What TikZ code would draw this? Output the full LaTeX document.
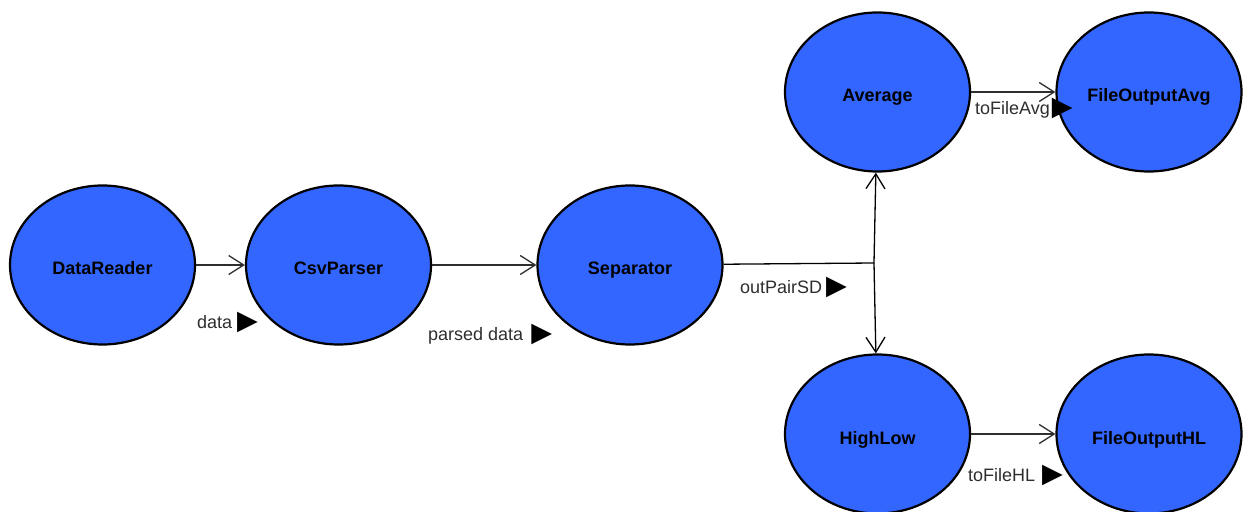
\documentclass[tikz,border=0pt]{standalone}
\usepackage{fontspec}
\setmainfont{Liberation Sans}
\newfontfamily\symfont{DejaVu Sans}
\usetikzlibrary{shapes.geometric,arrows.meta}
\definecolor{procblue}{HTML}{3366FF}
\definecolor{wire}{HTML}{2E2E2E}
% black pointer that follows each flow label
\newcommand\flowmark{{\color{black}\symfont\fontsize{27bp}{27bp}\selectfont\raisebox{-1bp}{▶}}}
\begin{document}
\begin{tikzpicture}[x=1bp,y=-1bp,
  proc/.style={ellipse,draw=black,line width=2.2bp,fill=procblue,
    minimum width=185bp,minimum height=159bp,inner sep=0pt,
    text height=20bp,text depth=0pt,
    font=\fontsize{18bp}{20bp}\selectfont\bfseries},
  flow/.style={draw=wire,line width=1.3bp,
    -{Straight Barb[length=15bp,width=19bp,line width=1.3bp]}},
  tag/.style={anchor=mid west,inner sep=0pt,text=wire,
    font=\fontsize{18bp}{20bp}\selectfont}]
\useasboundingbox (0,0) rectangle (1249,512);

% processing stages
\node[proc] (reader) at (102.5,265) {DataReader};
\node[proc] (parser) at (338.5,265) {CsvParser};
\node[proc] (sep)    at (630,265)   {Separator};
\node[proc] (avg)    at (877.5,92)  {Average};
\node[proc] (favg)   at (1149,92)   {FileOutputAvg};
\node[proc] (hl)     at (877.5,434) {HighLow};
\node[proc] (fhl)    at (1149,434)  {FileOutputHL};

% split point of the separator output
\coordinate (split) at (874,263);

% data flow
\draw[flow] (reader) -- (parser);
\draw[flow] (parser) -- (sep);
\draw[draw=black,line width=1.3bp] (sep) -- (split);
\draw[flow,draw=black] (split) -- (avg);
\draw[flow,draw=black] (split) -- (hl);
\draw[flow] (avg) -- (favg);
\draw[flow] (hl) -- (fhl);

% flow labels
\node[tag] (ldata)   at (197,326)  {data\hspace{5bp}\flowmark};
\node[tag] (lparsed) at (428,338)  {parsed data\hspace{8bp}\flowmark};
\node[tag] (lpair)   at (740,291)  {outPairSD\hspace{4bp}\flowmark};
\node[tag] (lfavg)   at (975,112)  {toFileAvg\hspace{2bp}\flowmark};
\node[tag] (lfhl)    at (968,479)  {toFileHL\hspace{7bp}\flowmark};
\end{tikzpicture}
\end{document}
